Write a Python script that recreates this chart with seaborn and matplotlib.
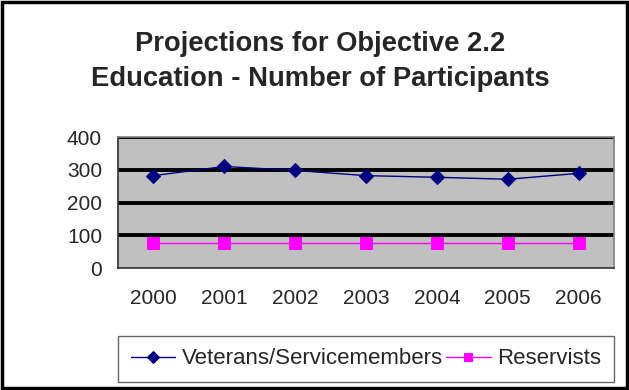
import matplotlib
matplotlib.use("Agg")
import matplotlib.pyplot as plt
from matplotlib.patches import Rectangle
from matplotlib.lines import Line2D
from matplotlib.legend_handler import HandlerLine2D
import seaborn as sns
import pandas as pd
import numpy as np

years = ["2000", "2001", "2002", "2003", "2004", "2005", "2006"]
veterans = [282, 310, 298, 282, 277, 271, 289]
reservists = [75, 75, 75, 75, 75, 75, 75]
series_names = ["Veterans/Servicemembers", "Reservists"]
y_ticks = [0, 100, 200, 300, 400]

sns.set_style("white")
plt.rcParams["font.family"] = ["Liberation Sans", "DejaVu Sans"]

fig = plt.figure(figsize=(6.29, 3.90), dpi=100)
ax = fig.add_axes([118/629, 1-268/390, (614-118)/629, (268-137)/390])
ax.set_facecolor("#C0C0C0")

df = pd.DataFrame({"x": np.arange(len(years)), "v": veterans, "r": reservists})
sns.lineplot(data=df, x="x", y="v", ax=ax, color="#000080", marker="D",
             markersize=7.5, markeredgecolor="#000080", linewidth=1.0,
             label=series_names[0], zorder=4)
sns.lineplot(data=df, x="x", y="r", ax=ax, color="#FF00FF", marker="s",
             markersize=8, markeredgecolor="#FF00FF", linewidth=1.0,
             label=series_names[1], zorder=4)

ax.set_xlim(-0.5, len(years) - 0.5)
ax.set_ylim(0, 400)
ax.set_yticks(y_ticks)
ax.set_yticklabels([str(t) for t in y_ticks], fontsize=15)
for t in y_ticks[1:]:
    ax.axhline(t, color="black", linewidth=2.8, zorder=2)

ax.set_xticks(np.arange(len(years)))
ax.set_xticklabels(years, fontsize=15)
ax.set_xticks(np.arange(len(years) + 1) - 0.5, minor=True)
ax.tick_params(axis="x", which="major", length=0, pad=15)
ax.tick_params(axis="x", which="minor", length=4.5, width=1.2, color="#404040")
ax.tick_params(axis="y", which="major", length=4.5, width=1.2, color="#404040", pad=7)
ax.set_xlabel("")
ax.set_ylabel("")

for side in ["top", "right"]:
    ax.spines[side].set_color("#808080")
    ax.spines[side].set_linewidth(1.2)
ax.spines["left"].set_color("#303030")
ax.spines["left"].set_linewidth(1.2)
ax.spines["bottom"].set_color("#303030")
ax.spines["bottom"].set_linewidth(1.2)

ax.legend_.remove()
handles, labels = ax.get_legend_handles_labels()


def _small(legend_line, orig):
    legend_line.update_from(orig)
    legend_line.set_markersize(6)


leg = fig.legend(handles, labels, loc="center", bbox_to_anchor=(366/629, 1-359/390),
                 ncol=2, frameon=True, fontsize=16, handlelength=2.0,
                 handletextpad=0.3, columnspacing=0.15, borderpad=0.55,
                 borderaxespad=0, fancybox=False, edgecolor="#404040",
                 handler_map={Line2D: HandlerLine2D(update_func=_small)})
leg.get_frame().set_linewidth(1.0)

fig.text(320/629, 1-51/390, "Projections for Objective 2.2", ha="center", va="baseline",
         fontsize=19.7, fontweight="bold")
fig.text(320/629, 1-86/390, "Education - Number of Participants", ha="center", va="baseline",
         fontsize=19.7, fontweight="bold")

fig.patches.append(Rectangle((0.003, 0.004), 0.994, 0.992, transform=fig.transFigure,
                             fill=False, edgecolor="black", linewidth=2.5))

fig.savefig("out.png", dpi=100)
